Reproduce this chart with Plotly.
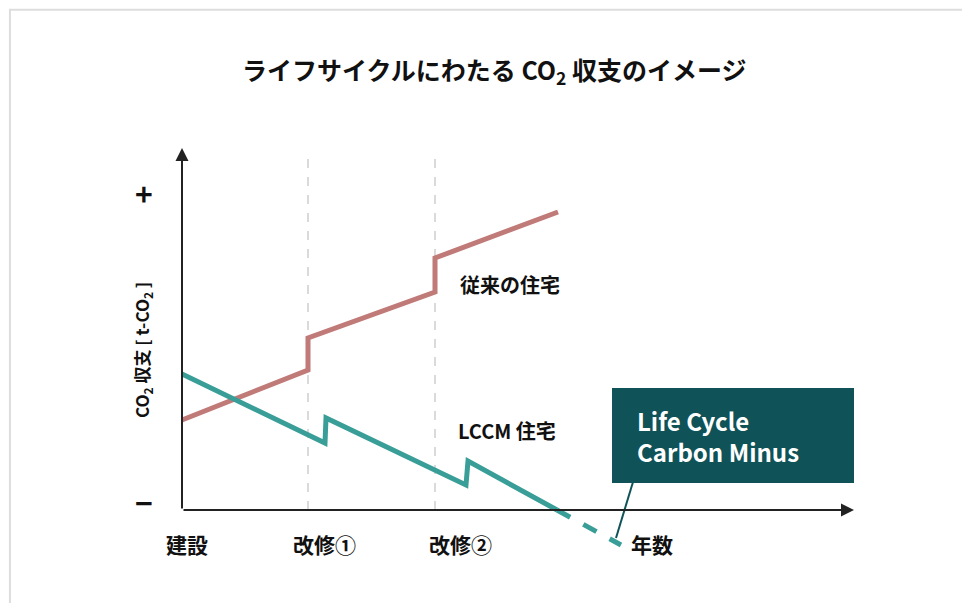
import plotly.graph_objects as go

# data in chart units (origin = axis corner)
conv_x = [0, 126, 126, 253, 253, 376]
conv_y = [90, 140, 172, 218, 252, 298]
lccm_x = [0, 143, 144, 284, 286, 375]
lccm_y = [136, 67, 92, 25, 49, 0]
minus_x = [375, 439]
minus_y = [0, -35]
renov_x = [126, 253]
tick_labels = ["建設", "改修①", "改修②", "年数"]
tick_pos = [5, 142, 278, 470]

BROWN = "#c07a78"
TEAL = "#3a9e98"
DARK = "#0f5257"
FONT = "Noto Sans CJK JP"

fig = go.Figure()
for xv in renov_x:
    fig.add_trace(go.Scatter(x=[xv, xv], y=[0, 352], mode="lines",
                             line=dict(color="#b5b5b5", width=1, dash="dash"), hoverinfo="skip"))
fig.add_trace(go.Scatter(x=conv_x, y=conv_y, mode="lines", line=dict(color=BROWN, width=5)))
fig.add_trace(go.Scatter(x=lccm_x, y=lccm_y, mode="lines", line=dict(color=TEAL, width=5)))
fig.add_trace(go.Scatter(x=minus_x, y=minus_y, mode="lines", line=dict(color=TEAL, width=5, dash="dash")))

# full page mapped to data units: 1 unit = 1 px
fig.update_layout(
    width=970, height=603, showlegend=False,
    paper_bgcolor="white", plot_bgcolor="white",
    margin=dict(l=0, r=0, t=0, b=0, autoexpand=False),
    font=dict(family=FONT, color="#111"),
    xaxis=dict(range=[-174, 796], visible=False, fixedrange=True),
    yaxis=dict(range=[-101, 502], visible=False, fixedrange=True),
)
# axes with arrows
fig.add_annotation(x=672, y=0, ax=0, ay=0, xref="x", yref="y", axref="x", ayref="y",
                   showarrow=True, arrowhead=2, arrowsize=1.3, arrowwidth=2, arrowcolor="#222", text="")
fig.add_annotation(x=0, y=362, ax=0, ay=0, xref="x", yref="y", axref="x", ayref="y",
                   showarrow=True, arrowhead=2, arrowsize=1.3, arrowwidth=2, arrowcolor="#222", text="")
fig.add_annotation(x=-38, y=317, text="<b>+</b>", showarrow=False, font=dict(size=30))
fig.add_annotation(x=-38, y=8, text="<b>−</b>", showarrow=False, font=dict(size=30))
fig.add_annotation(x=-40, y=160, textangle=-90, showarrow=False,
                   text="<b>CO<sub>2</sub> 収支 [ t-CO<sub>2</sub> ]</b>", font=dict(size=17))
for lab, xp in zip(tick_labels, tick_pos):
    fig.add_annotation(x=xp, y=-34, text="<b>%s</b>" % lab, showarrow=False, font=dict(size=21))
fig.add_annotation(x=276, y=226, text="<b>従来の住宅</b>", showarrow=False,
                   xanchor="left", font=dict(size=20))
fig.add_annotation(x=274, y=80, text="<b>LCCM 住宅</b>", showarrow=False,
                   xanchor="left", font=dict(size=20))
# callout
fig.add_shape(type="line", x0=451, y0=28, x1=434, y1=-28, line=dict(color=DARK, width=2))
fig.add_shape(type="rect", x0=431, y0=28, x1=671, y1=121, fillcolor=DARK, line=dict(color=DARK))
fig.add_annotation(x=453, y=74, xanchor="left", showarrow=False, align="left",
                   text="<b>Life Cycle<br>Carbon Minus</b>", font=dict(size=24, color="white"))
fig.add_annotation(x=312, y=440, showarrow=False,
                   text="<b>ライフサイクルにわたる CO<sub>2</sub> 収支のイメージ</b>", font=dict(size=25))
# frame
fig.add_shape(type="rect", xref="paper", yref="paper", x0=0.002, x1=0.998, y0=0.003, y1=0.997,
              line=dict(color="#dddddd", width=2))
fig.write_html("out.html")
